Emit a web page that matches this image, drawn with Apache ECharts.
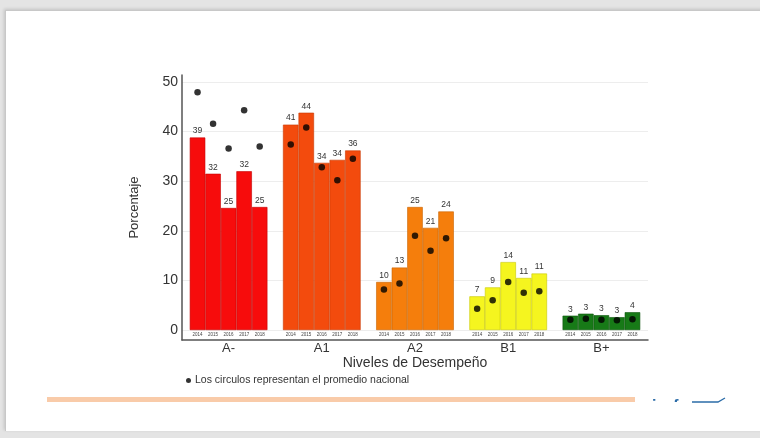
<!DOCTYPE html>
<html>
<head>
<meta charset="utf-8">
<script src="https://cdn.jsdelivr.net/npm/echarts@6/dist/echarts.min.js"></script>
<style>
  html, body { margin:0; padding:0; width:760px; height:438px; overflow:hidden; background:#e4e4e4; font-family: "Liberation Sans", Arial, sans-serif; }
  #slide { position:absolute; left:5px; top:10px; width:760px; height:420px; background:#fff; border-left:1px solid #c8c8c8; border-top:1px solid #c8c8c8; box-shadow: -1px -1px 3px rgba(0,0,0,0.15); }
  #chart { position:absolute; left:0; top:0; width:760px; height:438px; }
  #logo { position:absolute; left:652px; top:396px; width:72px; height:6px; overflow:hidden; }
  #logo span { position:absolute; left:0; top:1px; font: bold 16px "Liberation Sans", sans-serif; color:#2b6ca8; letter-spacing:4px; }
</style>
</head>
<body>
<div id="slide"></div>
<div id="chart"></div>
<div id="logo"><span>icfes</span></div>
<script>
// ---- data ----
const levels = ['A-', 'A1', 'A2', 'B1', 'B+'];
const years = ['2014', '2015', '2016', '2017', '2018'];
const levelColors = ['#f70c0c', '#f34b0d', '#f57e0c', '#f5f51f', '#177a17'];
const levelBorders = ['#c40000', '#c73a05', '#c86300', '#c8c800', '#0d560d'];

// school percentages (bars)
const barsAminus = [38.8, 31.5, 24.6, 32.0, 24.8];
const barsA1     = [41.4, 43.8, 33.7, 34.3, 36.2];
const barsA2     = [9.7, 12.6, 24.8, 20.6, 23.9];
const barsB1     = [6.8, 8.6, 13.7, 10.5, 11.4];
const barsBplus  = [2.9, 3.3, 3.0, 2.6, 3.6];

// national average (dots)
const dotsAminus = [47.9, 41.6, 36.6, 44.3, 37.0];
const dotsA1     = [37.4, 40.8, 32.8, 30.2, 34.5];
const dotsA2     = [8.2, 9.4, 19.0, 16.0, 18.5];
const dotsB1     = [4.3, 6.0, 9.7, 7.5, 7.8];
const dotsBplus  = [2.1, 2.3, 2.1, 2.0, 2.2];

const yTicks = [0, 10, 20, 30, 40, 50];

const barSets = [barsAminus, barsA1, barsA2, barsB1, barsBplus];
const dotSets = [dotsAminus, dotsA1, dotsA2, dotsB1, dotsBplus];

// slot index: each level occupies 5 slots, one empty slot between levels
const slotOf = (g, y) => g * 6 + y;

const series = [];
barSets.forEach((vals, g) => {
  series.push({
    type: 'bar',
    name: levels[g],
    xAxisIndex: 0,
    barWidth: 15.5,
    barGap: '-100%',
    data: vals.map((v, y) => [slotOf(g, y), v]),
    itemStyle: { color: levelColors[g], borderColor: levelBorders[g], borderWidth: 0.6 },
    label: {
      show: true, position: 'top', distance: 2,
      fontSize: 8.5, color: '#333', fontFamily: 'Liberation Sans',
      formatter: p => Math.round(p.value[1])
    },
    z: 2
  });
});
const dotData = [];
dotSets.forEach((vals, g) => vals.forEach((v, y) => dotData.push([slotOf(g, y), v])));
series.push({
  type: 'scatter',
  name: 'Los circulos representan el promedio nacional',
  xAxisIndex: 0,
  data: dotData,
  symbol: 'circle',
  symbolSize: 6.5,
  itemStyle: { color: '#000' },
  z: 5,
  markLine: {
    silent: true, symbol: 'none', label: { show: false },
    lineStyle: { color: '#ededed', width: 1, type: 'solid' },
    data: yTicks.map(t => ({ yAxis: t })),
    z: 0
  }
});

const chart = echarts.init(document.getElementById('chart'), null, { renderer: 'canvas' });
chart.setOption({
  animation: false,
  backgroundColor: 'transparent',
  textStyle: { fontFamily: 'Liberation Sans' },
  grid: { left: 182, right: 112, top: 75, bottom: 98, containLabel: false },
  legend: {
    data: [{ name: 'Los circulos representan el promedio nacional', icon: 'circle' }],
    left: 181, top: 370, itemWidth: 5, itemHeight: 5, itemGap: 4,
    textStyle: { fontSize: 10.5, color: '#333', padding: [0, 0, 0, -1] }
  },
  xAxis: [
    {
      type: 'value', min: -1, max: 29, interval: 1, position: 'bottom',
      axisLine: { show: true, onZero: false, lineStyle: { color: '#555', width: 1.5 } },
      axisTick: { show: false }, splitLine: { show: false },
      axisLabel: {
        inside: true, margin: 3, fontSize: 4.5, color: '#444',
        formatter: v => { const g = Math.floor(v / 6), y = v - g * 6; return (v >= 0 && y < 5 && g < 5) ? years[y] : ''; }
      }
    },
    {
      type: 'value', min: -1, max: 29, interval: 1, position: 'bottom', offset: 0,
      name: 'Niveles de Desempeño', nameLocation: 'middle', nameGap: 16, nameMoveOverlap: false,
      nameTextStyle: { fontSize: 14, color: '#333' },
      axisLine: { show: false, onZero: false }, axisTick: { show: false }, splitLine: { show: false },
      axisLabel: {
        margin: 2, fontSize: 13, color: '#333',
        formatter: v => { const g = (v - 2) / 6; return (Number.isInteger(g) && g >= 0 && g < 5) ? levels[g] : ''; }
      }
    }
  ],
  yAxis: {
    type: 'value', min: -2, max: 51.4, interval: 2,
    name: 'Porcentaje', nameLocation: 'middle', nameGap: 41, nameRotate: 90,
    nameTextStyle: { fontSize: 13, color: '#333' },
    axisLine: { show: true, onZero: false, lineStyle: { color: '#555', width: 1.5 } },
    axisTick: { show: false }, splitLine: { show: false },
    axisLabel: {
      margin: 4, fontSize: 14, color: '#333',
      formatter: v => (yTicks.indexOf(v) >= 0 ? String(v) : '')
    }
  },
  graphic: [
    { type: 'rect', shape: { x: 47, y: 397, width: 588, height: 5 }, style: { fill: '#f9cba9' }, silent: true },
    { type: 'polyline', shape: { points: [[692, 402], [718, 402], [725, 398]] }, style: { stroke: '#2b6ca8', lineWidth: 1.3, fill: null }, silent: true }
  ],
  series: series
});
</script>
</body>
</html>
